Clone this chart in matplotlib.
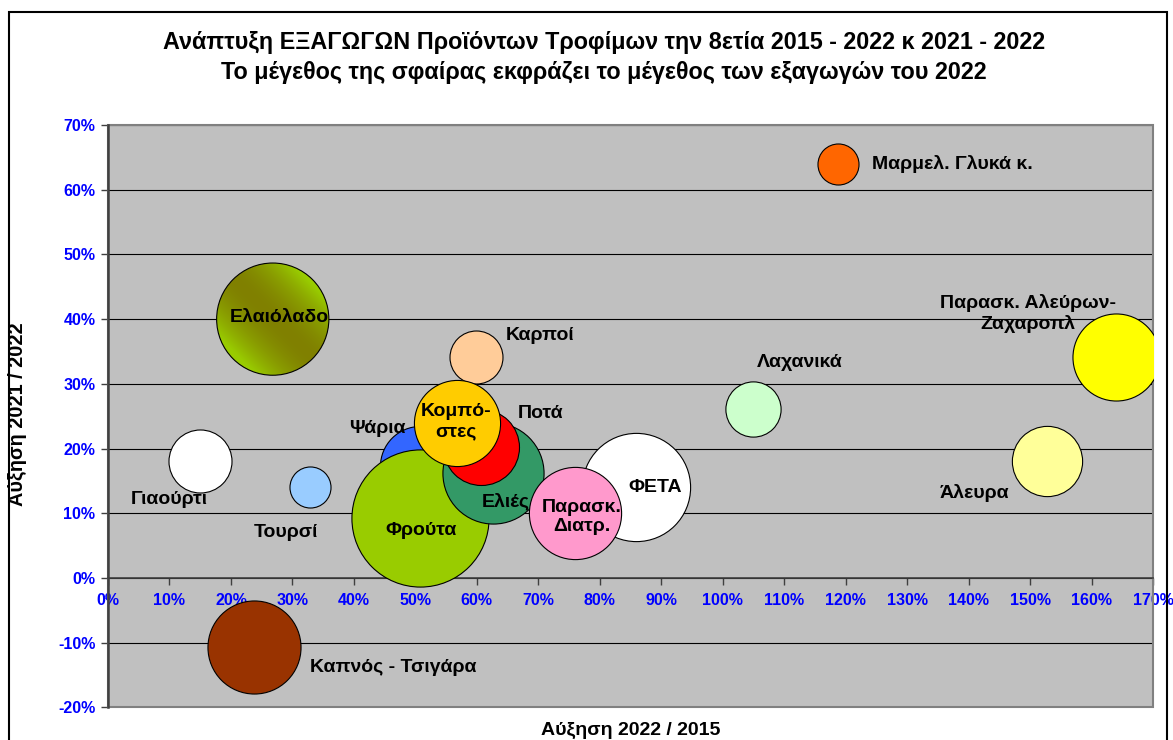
"""Greek food exports bubble chart: growth 2022/2015 vs growth 2021/2022, bubble = exports 2022."""

import numpy as np
import matplotlib.pyplot as plt
from matplotlib.patches import Circle, Rectangle
from matplotlib.transforms import ScaledTranslation

plt.rcParams["font.family"] = ["Liberation Sans", "DejaVu Sans"]

# draw order follows the original series order (later ones sit on top)
PRODUCTS = [
    "Ελαιόλαδο", "Καρποί", "Λαχανικά", "Μαρμελ. Γλυκά κ.",
    "Παρασκ. Αλεύρων-\nΖαχαροπλ", "Άλευρα", "Γιαούρτι", "Τουρσί",
    "Καπνός - Τσιγάρα", "Ψάρια", "Φρούτα", "Ελιές", "Ποτά",
    "Κομπό-\nστες", "ΦΕΤΑ", "Παρασκ.\nΔιατρ.",
]
GROWTH_2022_2015 = [26.8, 59.8, 104.9, 118.8, 163.9, 152.8, 14.9, 32.8,
                    23.8, 50.8, 50.8, 62.7, 60.7, 56.8, 85.9, 76.0]
GROWTH_2021_2022 = [40.0, 34.2, 26.1, 64.0, 34.1, 18.0, 18.1, 14.1,
                    -10.7, 17.3, 9.2, 16.2, 20.2, 24.0, 14.1, 10.1]
EXPORTS_2022 = [314, 70, 76, 42, 189, 123, 99, 42,
                216, 160, 469, 255, 144, 185, 292, 212]  # relative units

COLORS = ["#808000", "#FFCC99", "#CCFFCC", "#FF6600", "#FFFF00", "#FFFF99",
          "#FFFFFF", "#99CCFF", "#993300", "#3366FF", "#99CC00", "#339966",
          "#FF0000", "#FFCC00", "#FFFFFF", "#FF99CC"]
GRADIENT = {"Ελαιόλαδο": ("#808000", "#99CC00")}

# label placement relative to bubble centre, in pixels
LABEL_OFFSETS = [(6.5, 2), (64.5, 21), (47, 47), (33.5, 0), (-87.5, 43.5),
                 (-73, -31.5), (-30, -39), (-23.5, -46), (55.7, -20.5),
                 (-42.5, 38), (0.5, -12.5), (12.5, -28.5), (59.5, 34),
                 (-1, 1), (19, -1), (7, -4.5)]
LABEL_HA = ["center", "center", "center", "left", "center", "center",
            "center", "center", "left", "center", "center", "center",
            "center", "center", "center", "center"]

X_TICKS = list(range(0, 171, 10))
Y_TICKS = list(range(-20, 71, 10))

BUBBLE_K = 2.28  # points of radius per sqrt(size unit)

W, H = 1173, 740
fig = plt.figure(figsize=(W / 100, H / 100), dpi=100)
ax = fig.add_axes([108 / W, (H - 707.4) / H, (1153 - 108) / W, (707.4 - 125) / H])
ax.set_facecolor("#C0C0C0")
ax.set_xlim(0, 170)
ax.set_ylim(-20, 70)

for s in ["top", "right"]:
    ax.spines[s].set_visible(False)
ax.spines["bottom"].set_position(("data", 0))
ax.spines["bottom"].set_color("#404040")
ax.spines["bottom"].set_linewidth(1.2)
ax.spines["left"].set_color("#404040")
ax.spines["left"].set_linewidth(1.8)
ax.add_patch(Rectangle((0, 0), 1, 1, transform=ax.transAxes, fill=False,
                       edgecolor="#808080", linewidth=1.5, zorder=1.5, clip_on=False))

ax.set_xticks(X_TICKS, [f"{v}%" for v in X_TICKS], fontweight="bold")
ax.set_yticks(Y_TICKS, [f"{v}%" for v in Y_TICKS], fontweight="bold")
ax.tick_params(axis="both", direction="out", length=5, width=1, color="#404040",
               labelcolor="#0000FF", labelsize=11.5)
ax.tick_params(axis="x", pad=6)
ax.tick_params(axis="y", pad=4)
ax.yaxis.grid(True, color="black", linewidth=0.8)
ax.set_axisbelow(True)

for i, name in enumerate(PRODUCTS):
    gx, gy = GROWTH_2022_2015[i], GROWTH_2021_2022[i]
    z = 3 + 2 * i
    r_pt = BUBBLE_K * np.sqrt(EXPORTS_2022[i])
    face = COLORS[i]
    if name in GRADIENT:
        c0 = np.array(plt.matplotlib.colors.to_rgb(GRADIENT[name][0]))
        c1 = np.array(plt.matplotlib.colors.to_rgb(GRADIENT[name][1]))
        u, w = np.meshgrid(np.linspace(-1, 1, 300), np.linspace(-1, 1, 300))
        t = np.clip(np.abs(u - w) / 1.3, 0, 1) ** 1.8
        img = c0 + (c1 - c0) * t[..., None]
        r_px = r_pt * fig.dpi / 72
        cx, cy = ax.transData.transform((gx, gy))
        (x0, y0), (x1, y1) = ax.transData.inverted().transform(
            [[cx - r_px, cy - r_px], [cx + r_px, cy + r_px]])
        im = ax.imshow(img, extent=(x0, x1, y0, y1), origin="upper",
                       aspect="auto", zorder=z, interpolation="bilinear")
        clip = Circle((0, 0), r_px / fig.dpi,
                      transform=fig.dpi_scale_trans + ScaledTranslation(gx, gy, ax.transData))
        im.set_clip_path(clip)
        face = "none"
    ax.scatter([gx], [gy], s=(2 * r_pt) ** 2, c=face, edgecolors="black",
               linewidths=0.8, zorder=z)
    dx, dy = LABEL_OFFSETS[i]
    ax.annotate(name, (gx, gy), xytext=(dx, dy), textcoords="offset pixels",
                ha=LABEL_HA[i], va="center", fontsize=14, fontweight="bold",
                zorder=z + 1, annotation_clip=False)

ax.set_xlim(0, 170)
ax.set_ylim(-20, 70)

fig.text(604 / W, 1 - 43 / H,
         "Ανάπτυξη ΕΞΑΓΩΓΩΝ Προϊόντων Τροφίμων την 8ετία 2015 - 2022 κ 2021 - 2022",
         ha="center", va="center", fontsize=16.8, fontweight="bold")
fig.text(604 / W, 1 - 72 / H,
         "Το μέγεθος της σφαίρας εκφράζει το μέγεθος των εξαγωγών του 2022",
         ha="center", va="center", fontsize=16.8, fontweight="bold")
fig.text(630.5 / W, 1 - 730 / H, "Αύξηση 2022 / 2015",
         ha="center", va="center", fontsize=14, fontweight="bold")
fig.text(18 / W, 1 - 414 / H, "Αύξηση 2021 / 2022", rotation=90,
         ha="center", va="center", fontsize=14.3, fontweight="bold")

fig.patches.append(Rectangle((9 / W, -0.05), (1167 - 9) / W, 1 - 12 / H + 0.05,
                             transform=fig.transFigure, fill=False,
                             edgecolor="black", linewidth=1.5))

fig.savefig("out.png", dpi=100)
